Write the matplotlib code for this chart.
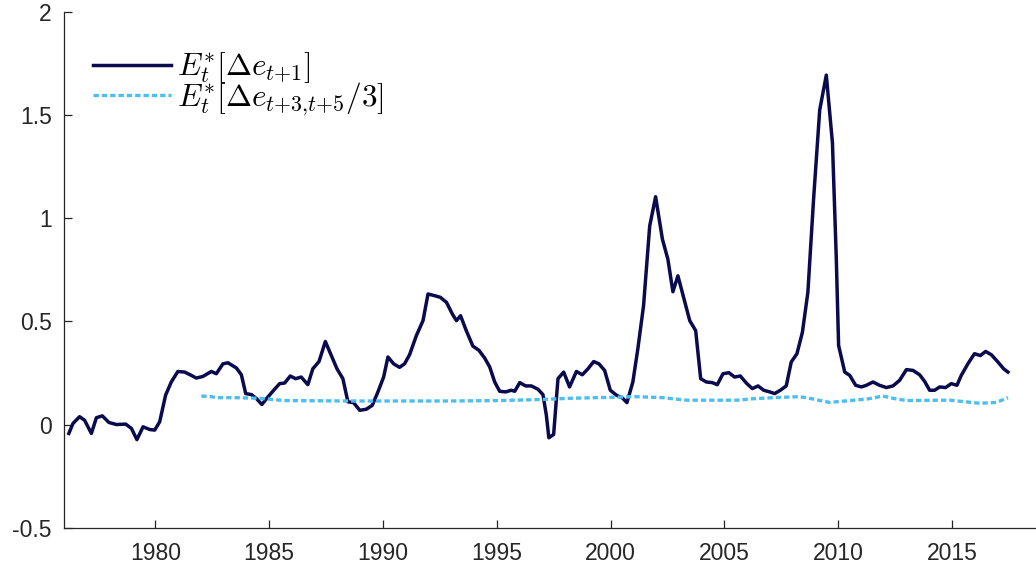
import matplotlib
matplotlib.use("Agg")
import matplotlib.pyplot as plt

# ---- data ----
years_short = [
    1976.20, 1976.38, 1976.67, 1976.89, 1977.19, 1977.41, 1977.67, 1977.96, 1978.29, 1978.70,
    1978.95, 1979.19, 1979.46, 1979.75, 1979.97, 1980.19, 1980.45, 1980.70, 1980.99, 1981.29,
    1981.58, 1981.80, 1982.09, 1982.46, 1982.68, 1982.97, 1983.19, 1983.56, 1983.78, 1983.97,
    1984.22, 1984.44, 1984.68, 1984.95, 1985.24, 1985.46, 1985.68, 1985.93, 1986.16, 1986.41,
    1986.70, 1986.92, 1987.19, 1987.47, 1987.73, 1987.98, 1988.24, 1988.46, 1988.71, 1988.98,
    1989.27, 1989.53, 1989.78, 1990.03, 1990.22, 1990.47, 1990.73, 1990.95, 1991.17, 1991.47,
    1991.76, 1991.98, 1992.27, 1992.52, 1992.79, 1993.05, 1993.23, 1993.41, 1993.66, 1993.95,
    1994.22, 1994.47, 1994.69, 1994.91, 1995.13, 1995.39, 1995.64, 1995.79, 1996.01, 1996.27,
    1996.52, 1996.81, 1997.03, 1997.18, 1997.29, 1997.50, 1997.69, 1997.94, 1998.20, 1998.50,
    1998.76, 1999.01, 1999.26, 1999.49, 1999.74, 1999.99, 2000.26, 2000.52, 2000.72, 2000.98,
    2001.20, 2001.45, 2001.72, 2001.98, 2002.28, 2002.52, 2002.74, 2002.96, 2003.23, 2003.48,
    2003.74, 2003.96, 2004.21, 2004.47, 2004.69, 2004.94, 2005.20, 2005.45, 2005.70, 2005.99,
    2006.23, 2006.48, 2006.73, 2006.99, 2007.21, 2007.46, 2007.72, 2007.94, 2008.19, 2008.43,
    2008.67, 2008.92, 2009.19, 2009.48, 2009.75, 2009.92, 2010.02, 2010.29, 2010.51, 2010.77,
    2011.02, 2011.24, 2011.53, 2011.82, 2012.12, 2012.41, 2012.70, 2013.00, 2013.29, 2013.58,
    2013.80, 2014.02, 2014.24, 2014.46, 2014.72, 2014.97, 2015.22, 2015.41, 2015.70, 2015.99,
    2016.25, 2016.48, 2016.73, 2017.02, 2017.27, 2017.46,
]
e_short = [
    -0.042, 0.006, 0.039, 0.022, -0.042, 0.034, 0.043, 0.011, 0.001, 0.003,
    -0.018, -0.072, -0.010, -0.023, -0.026, 0.014, 0.143, 0.207, 0.258, 0.255,
    0.239, 0.226, 0.234, 0.258, 0.247, 0.295, 0.300, 0.275, 0.242, 0.151,
    0.146, 0.127, 0.098, 0.135, 0.172, 0.199, 0.202, 0.236, 0.223, 0.231,
    0.194, 0.271, 0.306, 0.403, 0.335, 0.271, 0.223, 0.111, 0.107, 0.070,
    0.075, 0.094, 0.159, 0.231, 0.328, 0.295, 0.278, 0.295, 0.339, 0.432,
    0.504, 0.633, 0.625, 0.617, 0.593, 0.536, 0.504, 0.528, 0.456, 0.381,
    0.360, 0.323, 0.280, 0.207, 0.162, 0.159, 0.167, 0.162, 0.204, 0.188,
    0.188, 0.172, 0.146, 0.046, -0.063, -0.047, 0.223, 0.255, 0.183, 0.258,
    0.242, 0.271, 0.306, 0.295, 0.263, 0.167, 0.143, 0.130, 0.107, 0.207,
    0.368, 0.576, 0.962, 1.104, 0.898, 0.801, 0.644, 0.721, 0.609, 0.504,
    0.456, 0.223, 0.207, 0.204, 0.194, 0.247, 0.252, 0.231, 0.236, 0.199,
    0.175, 0.188, 0.167, 0.159, 0.151, 0.167, 0.188, 0.304, 0.344, 0.448,
    0.641, 1.091, 1.524, 1.693, 1.364, 0.801, 0.384, 0.255, 0.239, 0.191,
    0.183, 0.191, 0.207, 0.191, 0.180, 0.188, 0.215, 0.267, 0.263, 0.242,
    0.210, 0.167, 0.167, 0.183, 0.180, 0.199, 0.191, 0.239, 0.295, 0.344,
    0.335, 0.355, 0.339, 0.304, 0.271, 0.255,
]

years_long = [
    1982.02, 1982.46, 1982.68, 1983.56, 1984.58, 1985.68, 1988.54, 1990.73, 1992.93, 1995.13,
    1996.88, 1998.20, 2000.40, 2001.13, 2002.30, 2003.33, 2004.65, 2005.67, 2006.11, 2007.13,
    2008.30, 2008.74, 2009.62, 2010.21, 2011.31, 2011.97, 2012.41, 2013.00, 2014.90, 2016.22,
    2016.95, 2017.46,
]
e_long = [
    0.139, 0.136, 0.131, 0.131, 0.128, 0.117, 0.115, 0.115, 0.115, 0.117,
    0.122, 0.128, 0.134, 0.136, 0.131, 0.119, 0.119, 0.119, 0.125, 0.131,
    0.136, 0.128, 0.108, 0.114, 0.125, 0.139, 0.128, 0.117, 0.119, 0.104,
    0.108, 0.131,
]

x_ticks = [1980, 1985, 1990, 1995, 2000, 2005, 2010, 2015]
y_ticks = [-0.5, 0, 0.5, 1, 1.5, 2]
y_ticklabels = ["-0.5", "0", "0.5", "1", "1.5", "2"]
labels = [r"$E_t^{*}[\Delta e_{t{+}1}]$", r"$E_t^{*}[\Delta e_{t{+}3{,}t{+}5}/3]$"]

# ---- style ----
plt.rcParams["font.family"] = ["Liberation Sans", "DejaVu Sans"]
plt.rcParams["mathtext.fontset"] = "cm"

W, H = 1036, 573
fig = plt.figure(figsize=(W / 100, H / 100), dpi=100)
left_px, right_px = 64.3, 1036
top_px, bottom_px = 11.7, 528.0
ax = fig.add_axes([left_px / W, 1 - bottom_px / H,
                   (right_px - left_px) / W, (bottom_px - top_px) / H])

navy = "#0a0a4e"
light = "#4DBEEE"
axcol = "#262626"

ax.plot(years_short, e_short, color=navy, lw=2.5, zorder=2, label=labels[0],
        solid_joinstyle="round")
ax.plot(years_long, e_long, color=light, lw=2.4, zorder=3, label=labels[1],
        linestyle=(0, (1.6, 0.9)))

x0 = 1976.0
ax.set_xlim(x0, x0 + (right_px - left_px) / 22.76)
ax.set_ylim(-0.5, 2)
ax.set_xticks(x_ticks)
ax.set_yticks(y_ticks)
ax.set_yticklabels(y_ticklabels)

for s in ["top", "right"]:
    ax.spines[s].set_visible(False)
for s in ["left", "bottom"]:
    ax.spines[s].set_color(axcol)
    ax.spines[s].set_linewidth(0.9)

ax.tick_params(axis="both", direction="in", length=6, width=0.9, color=axcol,
               labelcolor=axcol, labelsize=16.5)
ax.tick_params(axis="x", pad=10)
ax.tick_params(axis="y", pad=9)

leg = ax.legend(loc="upper left", bbox_to_anchor=(0.017, 0.949), frameon=False,
                fontsize=22.5, handlelength=2.48, handletextpad=0.2,
                labelspacing=-0.15, borderaxespad=0.0)

fig.savefig("out.png", dpi=100)
